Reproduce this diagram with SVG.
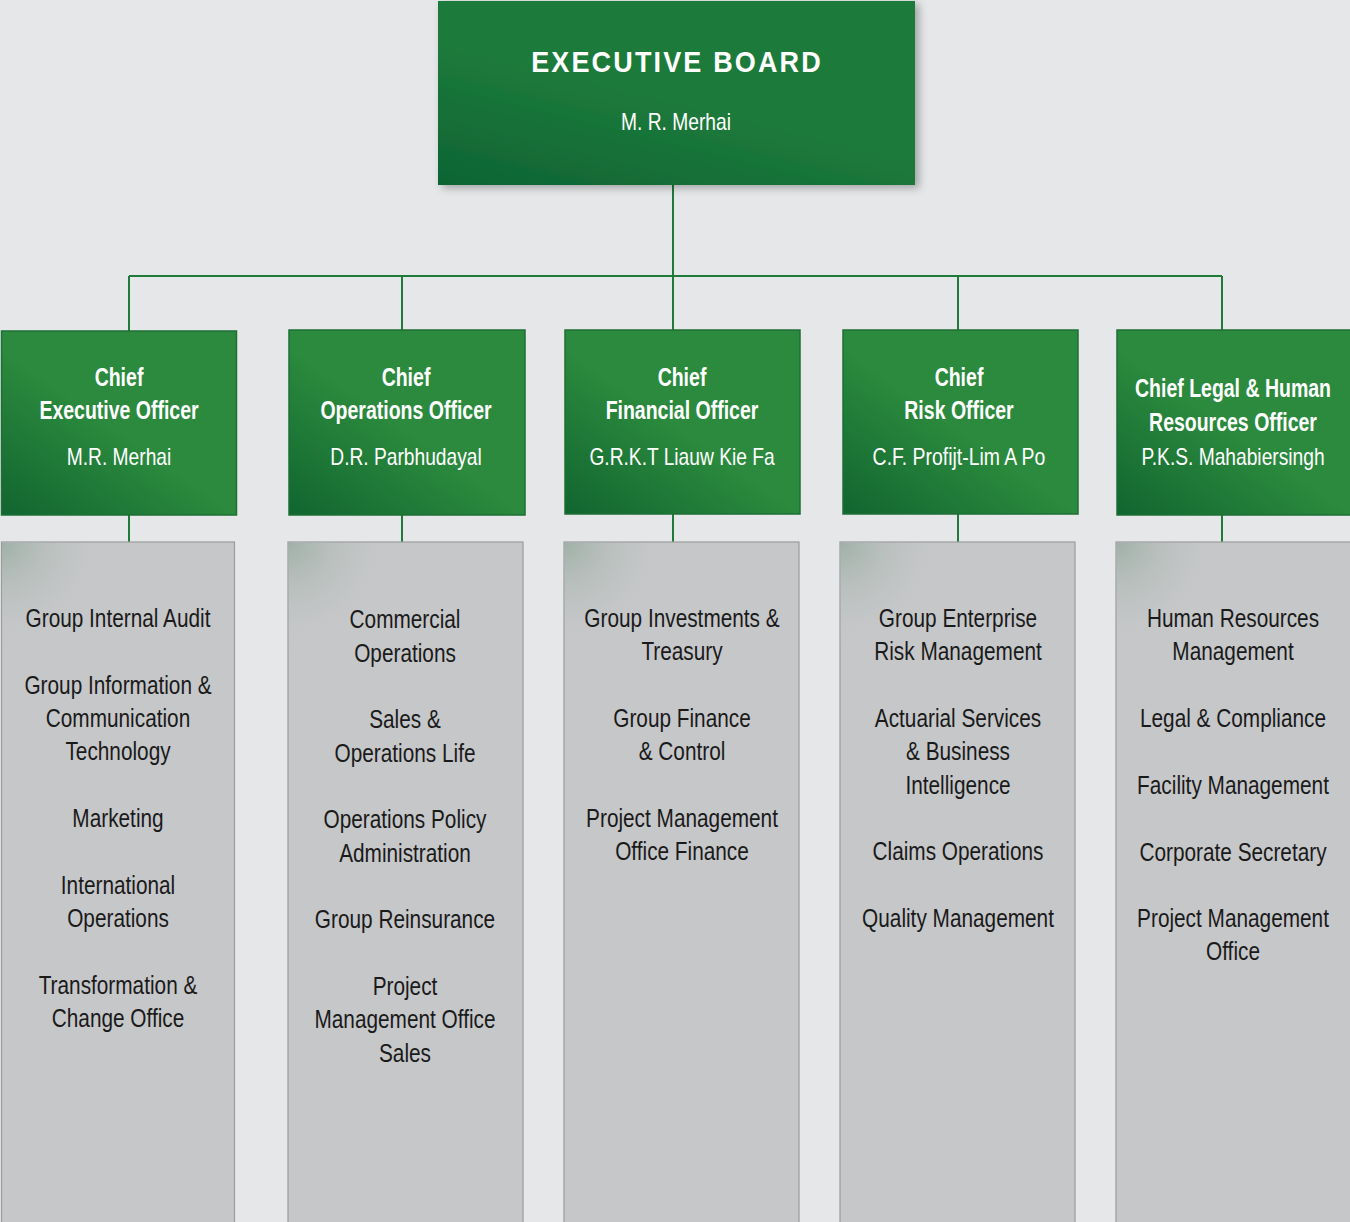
<svg xmlns="http://www.w3.org/2000/svg" width="1350" height="1222" viewBox="0 0 1350 1222">
<defs>
<linearGradient id="gExec" x1="0" y1="1" x2="0.35" y2="0.45">
<stop offset="0" stop-color="#0d6433"/>
<stop offset="1" stop-color="#1d7a3b"/>
</linearGradient>
<linearGradient id="gChief" x1="0" y1="1" x2="0.45" y2="0.5">
<stop offset="0" stop-color="#116530"/>
<stop offset="1" stop-color="#2b8a3d"/>
</linearGradient>
<radialGradient id="glow" cx="0" cy="0" r="1">
<stop offset="0" stop-color="#9fb0a7" stop-opacity="1"/>
<stop offset="0.45" stop-color="#b4bdb9" stop-opacity="0.6"/>
<stop offset="1" stop-color="#c6c7c9" stop-opacity="0"/>
</radialGradient>
<filter id="sh" x="-5%" y="-5%" width="112%" height="115%">
<feDropShadow dx="4" dy="3" stdDeviation="4" flood-color="#000" flood-opacity="0.3"/>
</filter>
<style>
.bg{fill:#e6e7e9}
.exec{fill:url(#gExec)}
.chief{fill:url(#gChief);stroke:#1e6f36;stroke-width:1.5}
.gray{fill:#c6c7c9;stroke:#9a9b9d;stroke-width:1.2}
.glow{fill:url(#glow)}
.conn{stroke:#1e7b3a;stroke-width:2;fill:none}
text{font-family:"Liberation Sans",Arial,sans-serif;text-anchor:middle}
.t1{font-size:30px;font-weight:bold;fill:#fff;letter-spacing:2.4px}
.n1{font-size:24px;fill:#fff}
.h{font-size:25px;font-weight:bold;fill:#fff}
.n{font-size:24px;fill:#fff}
.d{font-size:26px;fill:#1a1a1a}
</style>
</defs>
<rect class="bg" x="0" y="0" width="1350" height="1222"/>

<g id="connectors">
<path class="conn" d="M673 185 V276 M129 276 H1222 M129 276 V331 M402 276 V330 M673 276 V330 M958 276 V330 M1222 276 V330"/>
<path class="conn" d="M129 515 V542 M402 515 V542 M673 514 V542 M958 514 V542 M1222 515 V542"/>
</g>

<g id="executive-board">
<rect class="exec" x="438" y="1" width="477" height="184" filter="url(#sh)"/>
<g transform="translate(677 0) scale(0.9 1)"><text class="t1" x="0" y="72">EXECUTIVE BOARD</text></g>
<g transform="translate(676 0) scale(0.8 1)"><text class="n1" x="0" y="130">M. R. Merhai</text></g>
</g>

<g id="ceo">
<rect class="chief" x="1.5" y="331" width="235" height="184"/>
<g transform="translate(119 0) scale(0.78 1)">
<text class="h" x="0" y="386">Chief</text>
<text class="h" x="0" y="419">Executive Officer</text>
</g>
<g transform="translate(119 0) scale(0.8 1)"><text class="n" x="0" y="465">M.R. Merhai</text></g>
</g>

<g id="coo">
<rect class="chief" x="289" y="330" width="236" height="185"/>
<g transform="translate(406 0) scale(0.78 1)">
<text class="h" x="0" y="386">Chief</text>
<text class="h" x="0" y="419">Operations Officer</text>
</g>
<g transform="translate(406 0) scale(0.8 1)"><text class="n" x="0" y="465">D.R. Parbhudayal</text></g>
</g>

<g id="cfo">
<rect class="chief" x="565" y="330" width="235" height="184"/>
<g transform="translate(682 0) scale(0.78 1)">
<text class="h" x="0" y="386">Chief</text>
<text class="h" x="0" y="419">Financial Officer</text>
</g>
<g transform="translate(682 0) scale(0.8 1)"><text class="n" x="0" y="465">G.R.K.T Liauw Kie Fa</text></g>
</g>

<g id="cro">
<rect class="chief" x="843" y="330" width="235" height="184"/>
<g transform="translate(959 0) scale(0.78 1)">
<text class="h" x="0" y="386">Chief</text>
<text class="h" x="0" y="419">Risk Officer</text>
</g>
<g transform="translate(959 0) scale(0.81 1)"><text class="n" x="0" y="465">C.F. Profijt-Lim A Po</text></g>
</g>

<g id="clo">
<rect class="chief" x="1117" y="330" width="235" height="185"/>
<g transform="translate(1233 0) scale(0.78 1)">
<text class="h" x="0" y="397">Chief Legal &amp; Human</text>
<text class="h" x="0" y="431">Resources Officer</text>
</g>
<g transform="translate(1233 0) scale(0.8 1)"><text class="n" x="0" y="465">P.K.S. Mahabiersingh</text></g>
</g>

<g id="ceo-units">
<rect class="gray" x="1.5" y="542" width="233" height="690"/>
<rect class="glow" x="2" y="543" width="110" height="110"/>
<g transform="translate(118 0) scale(0.8 1)">
<text class="d" x="0" y="627">Group Internal Audit</text>
<text class="d" x="0" y="694">Group Information &amp;</text>
<text class="d" x="0" y="727">Communication</text>
<text class="d" x="0" y="760">Technology</text>
<text class="d" x="0" y="827">Marketing</text>
<text class="d" x="0" y="894">International</text>
<text class="d" x="0" y="927">Operations</text>
<text class="d" x="0" y="994">Transformation &amp;</text>
<text class="d" x="0" y="1027">Change Office</text>
</g>
</g>

<g id="coo-units">
<rect class="gray" x="288" y="542" width="235" height="690"/>
<rect class="glow" x="288.6" y="543" width="110" height="110"/>
<g transform="translate(405 0) scale(0.8 1)">
<text class="d" x="0" y="628">Commercial</text>
<text class="d" x="0" y="662">Operations</text>
<text class="d" x="0" y="728">Sales &amp;</text>
<text class="d" x="0" y="762">Operations Life</text>
<text class="d" x="0" y="828">Operations Policy</text>
<text class="d" x="0" y="862">Administration</text>
<text class="d" x="0" y="928">Group Reinsurance</text>
<text class="d" x="0" y="995">Project</text>
<text class="d" x="0" y="1028">Management Office</text>
<text class="d" x="0" y="1062">Sales</text>
</g>
</g>

<g id="cfo-units">
<rect class="gray" x="564" y="542" width="235" height="690"/>
<rect class="glow" x="564.6" y="543" width="110" height="110"/>
<g transform="translate(682 0) scale(0.8 1)">
<text class="d" x="0" y="627">Group Investments &amp;</text>
<text class="d" x="0" y="660">Treasury</text>
<text class="d" x="0" y="727">Group Finance</text>
<text class="d" x="0" y="760">&amp; Control</text>
<text class="d" x="0" y="827">Project Management</text>
<text class="d" x="0" y="860">Office Finance</text>
</g>
</g>

<g id="cro-units">
<rect class="gray" x="840" y="542" width="235" height="690"/>
<rect class="glow" x="840.6" y="543" width="110" height="110"/>
<g transform="translate(958 0) scale(0.8 1)">
<text class="d" x="0" y="627">Group Enterprise</text>
<text class="d" x="0" y="660">Risk Management</text>
<text class="d" x="0" y="727">Actuarial Services</text>
<text class="d" x="0" y="760">&amp; Business</text>
<text class="d" x="0" y="794">Intelligence</text>
<text class="d" x="0" y="860">Claims Operations</text>
<text class="d" x="0" y="927">Quality Management</text>
</g>
</g>

<g id="clo-units">
<rect class="gray" x="1116" y="542" width="240" height="690"/>
<rect class="glow" x="1116.6" y="543" width="110" height="110"/>
<g transform="translate(1233 0) scale(0.8 1)">
<text class="d" x="0" y="627">Human Resources</text>
<text class="d" x="0" y="660">Management</text>
<text class="d" x="0" y="727">Legal &amp; Compliance</text>
<text class="d" x="0" y="794">Facility Management</text>
<text class="d" x="0" y="861">Corporate Secretary</text>
<text class="d" x="0" y="927">Project Management</text>
<text class="d" x="0" y="960">Office</text>
</g>
</g>
</svg>
